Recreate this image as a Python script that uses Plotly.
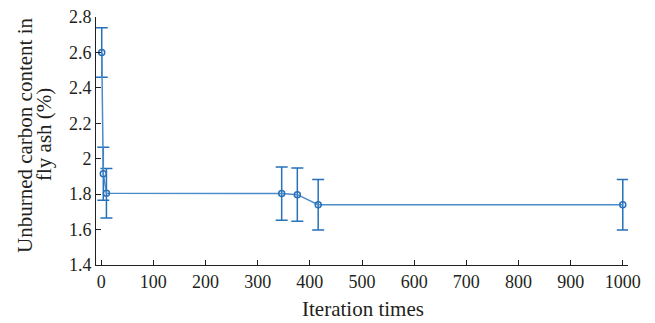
import plotly.graph_objects as go

iterations = [1, 4, 10, 346, 376, 416, 1000]
carbon = [2.60, 1.915, 1.805, 1.803, 1.797, 1.740, 1.740]
error = [0.14, 0.15, 0.14, 0.15, 0.15, 0.143, 0.143]

x_ticks = list(range(0, 1001, 100))
y_ticks = [1.4, 1.6, 1.8, 2.0, 2.2, 2.4, 2.6, 2.8]
y_tick_labels = ["1.4", "1.6", "1.8", "2", "2.2", "2.4", "2.6", "2.8"]
x_title = "Iteration times"
y_title_lines = ["Unburned carbon content in", "fly ash (%)"]

blue = "#2671b9"
ink = "#231f20"
font_family = "Liberation Serif, DejaVu Serif, serif"

# page body has an 8px margin, so the figure is drawn 8px smaller and offset
OFF = 8
W, H = 655 - OFF, 323 - OFF
L, R, T, B = 96 - OFF, 27, 17 - OFF, 58
pw, ph = W - L - R, H - T - B

def px_to_paper_x(px):
    return (px - OFF - L) / pw

def py_to_paper_y(py):
    return 1 - (py - OFF - T) / ph

fig = go.Figure()
fig.add_trace(go.Scatter(
    x=iterations, y=carbon, mode="lines+markers",
    line=dict(color="#4a8bc9", width=1.5),
    marker=dict(symbol="circle-open", size=6, color=blue, line=dict(width=1.5, color=blue)),
    error_y=dict(type="data", array=error, visible=True, color=blue, thickness=1.5, width=6),
    showlegend=False,
))

fig.update_layout(
    width=W, height=H,
    margin=dict(l=L, r=R, t=T, b=B),
    paper_bgcolor="white", plot_bgcolor="white",
    font=dict(family=font_family, size=18, color=ink),
)
fig.update_xaxes(
    range=[-10, 1010], tickvals=x_ticks, ticks="inside", ticklen=5,
    showline=True, linecolor=ink, linewidth=1, tickcolor=ink,
    showgrid=False, zeroline=False, automargin=False, ticklabeloverflow="allow",
)
fig.update_yaxes(
    range=[1.4, 2.8], tickvals=y_ticks, ticktext=y_tick_labels, ticks="inside", ticklen=5,
    showline=True, linecolor=ink, linewidth=1, tickcolor=ink,
    showgrid=False, zeroline=False, automargin=False, ticklabeloverflow="allow",
)

fig.add_annotation(text=x_title, xref="paper", yref="paper",
                   x=px_to_paper_x(363), y=py_to_paper_y(309),
                   showarrow=False, font=dict(size=21), xanchor="center", yanchor="middle")
for px, line in zip([25, 44], y_title_lines):
    fig.add_annotation(text=line, xref="paper", yref="paper",
                       x=px_to_paper_x(px), y=py_to_paper_y(135),
                       showarrow=False, textangle=-90, font=dict(size=21),
                       xanchor="center", yanchor="middle")

fig.write_html("out.html")
